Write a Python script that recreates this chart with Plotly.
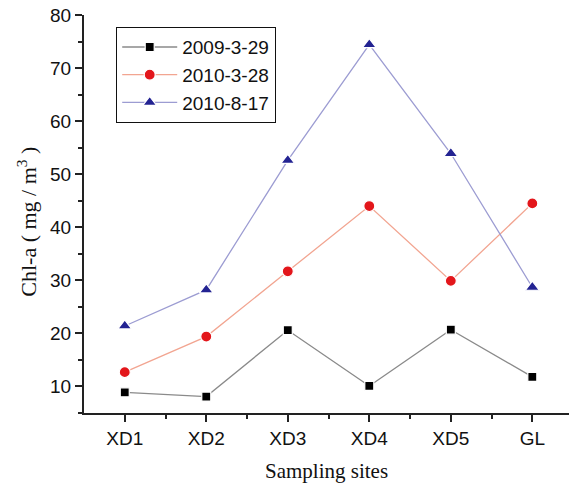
import plotly.graph_objects as go

sites = ["XD1", "XD2", "XD3", "XD4", "XD5", "GL"]
s2009_03_29 = [8.9, 8.1, 20.6, 10.1, 20.7, 11.8]
s2010_03_28 = [12.7, 19.4, 31.7, 44.0, 29.9, 44.5]
s2010_08_17 = [21.4, 28.2, 52.6, 74.4, 53.9, 28.7]
series_names = ["2009-3-29", "2010-3-28", "2010-8-17"]
y_ticks = [10, 20, 30, 40, 50, 60, 70, 80]

xpos = list(range(len(sites)))

styles = [
    dict(line="#8a8a8a", marker="#000000", symbol="square", size=9),
    dict(line="#f2a591", marker="#e3161b", symbol="circle", size=11),
    dict(line="#9c9cd2", marker="#232392", symbol="triangle-up", size=12),
]

fig = go.Figure()
for name, vals, st in zip(series_names, [s2009_03_29, s2010_03_28, s2010_08_17], styles):
    fig.add_trace(go.Scatter(
        x=xpos, y=vals, name=name, mode="lines+markers",
        line=dict(color=st["line"], width=1.3),
        marker=dict(color=st["marker"], symbol=st["symbol"], size=st["size"],
                    line=dict(color="white", width=1.2)),
    ))

axis_font = dict(family="Liberation Sans, Arial, sans-serif", size=19, color="#111")

fig.update_layout(
    width=569, height=487,
    margin=dict(l=84, r=0, t=15, b=74),
    paper_bgcolor="white", plot_bgcolor="white",
    showlegend=True,
    legend=dict(
        x=0.066, y=0.97, xanchor="left", yanchor="top",
        bgcolor="white", bordercolor="#111", borderwidth=1.2,
        font=dict(family="Liberation Sans, Arial, sans-serif", size=19, color="#111"),
        tracegroupgap=0, itemwidth=55,
    ),
    xaxis=dict(
        range=[-0.5, 5.45], tickvals=xpos, ticktext=sites,
        showgrid=False, zeroline=False, showline=True, linecolor="#222", linewidth=2,
        ticks="outside", ticklen=7, tickwidth=1.5, tickcolor="#222",
        minor=dict(tickvals=[0.5, 1.5, 2.5, 3.5, 4.5], ticks="outside", ticklen=4,
                   tickwidth=1.5, tickcolor="#222", showgrid=False),
        tickfont=axis_font, ticklabeloverflow="allow",
    ),
    yaxis=dict(
        range=[5, 80], tickvals=y_ticks,
        showgrid=False, zeroline=False, showline=True, linecolor="#222", linewidth=2,
        ticks="outside", ticklen=7, tickwidth=1.5, tickcolor="#222",
        minor=dict(tickvals=[5, 15, 25, 35, 45, 55, 65, 75], ticks="outside", ticklen=4,
                   tickwidth=1.5, tickcolor="#222", showgrid=False),
        tickfont=axis_font, ticklabeloverflow="allow",
    ),
    annotations=[
        dict(text="Sampling sites", xref="paper", yref="paper", x=0.5, y=-0.145,
             xanchor="center", yanchor="middle", showarrow=False,
             font=dict(family="Liberation Serif, Times New Roman, serif", size=21, color="#111")),
        dict(text="Chl-a ( mg / m<sup>3</sup> )",
             xref="paper", yref="paper", x=-0.118, y=0.48, textangle=-90,
             xanchor="center", yanchor="middle", showarrow=False,
             font=dict(family="Liberation Serif, Times New Roman, serif", size=22, color="#111")),
    ],
)

fig.write_html("out.html", config={"displayModeBar": False},
               post_script="document.body.style.margin='0';document.body.style.overflow='hidden';")
